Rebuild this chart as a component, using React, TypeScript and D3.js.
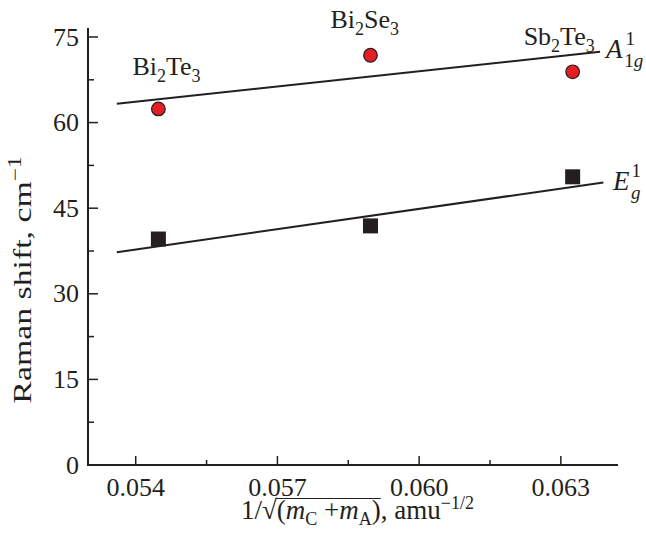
import React from "react";
import * as d3 from "d3";

const width = 646;
const height = 543;
const margin = { top: 28, right: 28, bottom: 78, left: 88 };

// x positions: 1/sqrt(m_C + m_A) for each compound
const compounds = ["Bi2Te3", "Bi2Se3", "Sb2Te3"];
const xValues = [0.05448, 0.05897, 0.06325];
const a1gValues = [62.4, 71.8, 68.9];
const egValues = [39.6, 41.9, 50.5];

// linear fits (start / end)
const a1gFit = [
  [0.0536, 63.3],
  [0.06383, 72.4],
];
const egFit = [
  [0.0536, 37.3],
  [0.0639, 49.5],
];

const xTicks = [0.054, 0.057, 0.06, 0.063];
const xMinorTicks = [0.0555, 0.0585, 0.0615];
const yTicks = [0, 15, 30, 45, 60, 75];
const yMinorTicks = [7.5, 22.5, 37.5, 52.5, 67.5];

const font = "'Liberation Serif', 'Times New Roman', serif";
const fs = 26;
const ink = "#231f20";

const x = d3
  .scaleLinear()
  .domain([0.05299, 0.06421])
  .range([margin.left, width - margin.right]);
const y = d3
  .scaleLinear()
  .domain([0, 75])
  .range([465, 37]);

const line = d3
  .line<number[]>()
  .x(d => x(d[0]))
  .y(d => y(d[1]));

const Chem = ({ a, b, px, py }: { a: string; b: string; px: number; py: number }) => (
  <text x={px} y={py} fontSize={26} fontFamily={font} fill={ink}>
    {a}
    <tspan fontSize={18} dy={7}>2</tspan>
    <tspan dy={-7}>{b}</tspan>
    <tspan fontSize={18} dy={7}>3</tspan>
  </text>
);

const labelOffsets = [
  { dx: -26, dy: -34 },
  { dx: -40, dy: -27 },
  { dx: -49, dy: -27 },
];

// x-title layout (Times metrics, em units)
const tfs = 27;
const tsub = 18;
const titleX = 241;
const barStart = titleX + (0.778 + 0.52) * tfs;
const barEnd =
  titleX + (0.778 + 0.549 + 0.333 + 0.722 + 0.25 + 0.564 + 0.722 + 0.333) * tfs + (0.667 + 0.722) * tsub;

export default function App() {
  const x0 = margin.left;
  const y0 = y(0);

  return (
    <svg
      width={width}
      height={height}
      style={{ position: "absolute", left: 0, top: 0, background: "#fff" }}
    >
      {/* axes */}
      <line x1={x0} x2={x0} y1={y0 + 1} y2={margin.top} stroke={ink} strokeWidth={2} />
      <line x1={x0 - 1} x2={width - margin.right} y1={y0} y2={y0} stroke={ink} strokeWidth={2} />

      {yTicks.map(t => (
        <g key={"y" + t}>
          <line x1={x0} x2={x0 + 10} y1={y(t)} y2={y(t)} stroke={ink} strokeWidth={1.5} />
          <text
            x={x0 - 9}
            y={y(t)}
            textAnchor="end"
            dominantBaseline="central"
            fontSize={fs}
            fontFamily={font}
            fill={ink}
          >
            {t}
          </text>
        </g>
      ))}
      {yMinorTicks.map(t => (
        <line key={"ym" + t} x1={x0} x2={x0 + 6} y1={y(t)} y2={y(t)} stroke={ink} strokeWidth={1.5} />
      ))}

      {xTicks.map(t => (
        <g key={"x" + t}>
          <line x1={x(t)} x2={x(t)} y1={y0} y2={y0 - 9} stroke={ink} strokeWidth={1.5} />
          <text x={x(t)} y={y0 + 31} textAnchor="middle" fontSize={fs} fontFamily={font} fill={ink}>
            {d3.format(".3f")(t)}
          </text>
        </g>
      ))}
      {xMinorTicks.map(t => (
        <line key={"xm" + t} x1={x(t)} x2={x(t)} y1={y0} y2={y0 - 5} stroke={ink} strokeWidth={1.5} />
      ))}

      {/* axis titles */}
      <text
        transform={`translate(31, 280) rotate(-90) scale(1.3, 1)`}
        textAnchor="middle"
        fontSize={fs}
        fontFamily={font}
        fill={ink}
      >
        Raman shift, cm
        <tspan fontSize={18} dy={-10}>−1</tspan>
      </text>
      <text x={titleX} y={519} fontSize={tfs} fontFamily={font} fill={ink}>
        1/√(<tspan fontStyle="italic">m</tspan>
        <tspan fontSize={tsub} dy={6}>C</tspan>
        <tspan dy={-6}> +</tspan>
        <tspan fontStyle="italic">m</tspan>
        <tspan fontSize={tsub} dy={6}>A</tspan>
        <tspan dy={-6}>), amu</tspan>
        <tspan fontSize={tsub} dy={-10}>−1/2</tspan>
      </text>
      <line x1={barStart} x2={barEnd} y1={498.5} y2={498.5} stroke={ink} strokeWidth={1.2} />

      {/* fits */}
      <path d={line(a1gFit) || ""} fill="none" stroke={ink} strokeWidth={2} />
      <path d={line(egFit) || ""} fill="none" stroke={ink} strokeWidth={2} />

      {/* data */}
      {xValues.map((v, i) => (
        <circle
          key={"c" + i}
          cx={x(v)}
          cy={y(a1gValues[i])}
          r={6.8}
          fill="#e31e24"
          stroke={ink}
          strokeWidth={1.2}
        />
      ))}
      {xValues.map((v, i) => (
        <rect
          key={"s" + i}
          x={x(v) - 7.5}
          y={y(egValues[i]) - 7.5}
          width={15}
          height={15}
          fill={ink}
        />
      ))}

      {/* compound labels */}
      {xValues.map((v, i) => {
        const name = compounds[i];
        return (
          <Chem
            key={name}
            a={name.slice(0, 2)}
            b={name.slice(3, 5)}
            px={x(v) + labelOffsets[i].dx}
            py={y(a1gValues[i]) + labelOffsets[i].dy}
          />
        );
      })}

      {/* mode labels */}
      <text x={606} y={58} fontSize={27} fontFamily={font} fill={ink}>
        <tspan fontStyle="italic">A</tspan>
        <tspan fontSize={19} dx={3} dy={-13}>1</tspan>
        <tspan fontSize={19} dx={-10} dy={22}>1</tspan>
        <tspan fontSize={19} fontStyle="italic">g</tspan>
      </text>
      <text x={613} y={190} fontSize={27} fontFamily={font} fill={ink}>
        <tspan fontStyle="italic">E</tspan>
        <tspan fontSize={19} dx={2} dy={-13}>1</tspan>
        <tspan fontSize={19} fontStyle="italic" dx={-10} dy={22}>g</tspan>
      </text>
    </svg>
  );
}
